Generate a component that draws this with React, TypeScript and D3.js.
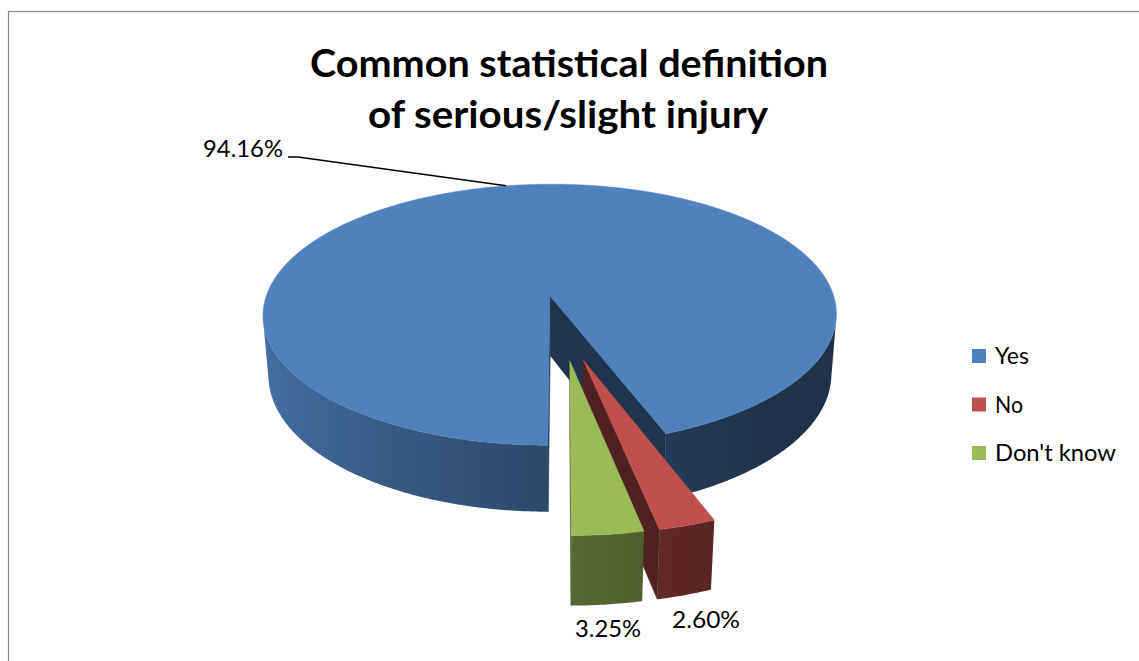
import React from 'react';
import * as d3 from 'd3';

// Survey answers
const categories = ['Yes', 'No', "Don't know"];
const values = [94.16, 2.6, 3.25];
const colors = ['#4F81BD', '#C0504D', '#9BBB59'];
const titleLines = ['Common statistical definition', 'of serious/slight injury'];

// 3-D view of the pie (unit radius disc, top face at Y = 0)
const TILT = (27.8 * Math.PI) / 180;
const SIN = Math.sin(TILT);
const COS = Math.cos(TILT);
const DIST = 5.89;
const FOCAL = 1730;
const CX = 562.4;
const CY = 327;
const THICK = 0.24;
const EXPLODE = 0.24;

type P3 = [number, number, number];

function project(X: number, Y: number, Z: number): P3 {
  const depth = DIST - Z * COS - Y * SIN;
  const u = Y * COS - Z * SIN;
  return [CX + (FOCAL * X) / depth, CY - (FOCAL * u) / depth, depth];
}

const camera = [0, DIST * SIN, DIST * COS];

function shadeWall(t: number): number {
  const light = (280 * Math.PI) / 180;
  return Math.max(0.39, 0.61 + 0.28 * Math.cos(t - light));
}

function scaleColor(hex: string, f: number): string {
  const c = d3.rgb(hex);
  return d3.rgb(c.r * f, c.g * f, c.b * f).formatHex();
}

const poly = (pts: P3[]) =>
  'M' + pts.map((p) => `${p[0].toFixed(2)},${p[1].toFixed(2)}`).join('L') + 'Z';

interface Face {
  d: string;
  fill: string;
  depth: number;
  grad?: { id: string; x1: number; x2: number; stops: { offset: number; color: string }[] };
}

function buildSlice(a0: number, a1: number, color: string, key: string) {
  const mid = (a0 + a1) / 2;
  const ox = EXPLODE * Math.sin(mid);
  const oz = -EXPLODE * Math.cos(mid);
  const rim = (t: number, y: number) => project(ox + Math.sin(t), y, oz - Math.cos(t));
  const faces: Face[] = [];
  const avg = (pts: P3[]) => d3.mean(pts, (p) => p[2]) as number;

  // outer wall: visible strips grouped into continuous runs, each shaded by a gradient
  const n = Math.max(4, Math.ceil((a1 - a0) / (Math.PI / 360)));
  const runs: number[][] = [];
  let cur: number[] | null = null;
  for (let i = 0; i < n; i++) {
    const tm = a0 + ((a1 - a0) * (i + 0.5)) / n;
    const nx = Math.sin(tm);
    const nz = -Math.cos(tm);
    const vis = nx * (camera[0] - (ox + nx)) + nz * (camera[2] - (oz + nz));
    if (vis > 0) {
      if (!cur) {
        cur = [];
        runs.push(cur);
      }
      cur.push(i);
    } else cur = null;
  }
  runs.forEach((run, r) => {
    const ts = [run[0], ...run.map((i) => i + 1)].map((i) => a0 + ((a1 - a0) * i) / n);
    const top = ts.map((t) => rim(t, 0));
    const bottom = ts.map((t) => rim(t, -THICK)).reverse();
    const pts = [...top, ...bottom];
    const xs = top.map((p) => p[0]);
    const x1 = d3.min(xs) as number;
    const x2 = d3.max(xs) as number;
    const stops = run
      .map((i) => {
        const tm = a0 + ((a1 - a0) * (i + 0.5)) / n;
        const x = rim(tm, 0)[0];
        return { offset: x2 > x1 ? (x - x1) / (x2 - x1) : 0, color: scaleColor(color, shadeWall(tm)) };
      })
      .sort((a, b) => a.offset - b.offset);
    const id = `wall-${key}-${r}`;
    faces.push({ d: poly(pts), fill: `url(#${id})`, depth: avg(pts), grad: { id, x1, x2, stops } });
  });

  // radial cut faces
  const radial = (t: number, normalAngle: number) => {
    const nx = Math.sin(normalAngle);
    const nz = -Math.cos(normalAngle);
    const vis = nx * (camera[0] - ox) + nz * (camera[2] - oz);
    if (vis <= 0) return;
    const pts = [project(ox, 0, oz), rim(t, 0), rim(t, -THICK), project(ox, -THICK, oz)];
    faces.push({ d: poly(pts), fill: scaleColor(color, 0.41), depth: avg(pts) });
  };
  radial(a0, a0 - Math.PI / 2);
  radial(a1, a1 + Math.PI / 2);

  faces.sort((a, b) => b.depth - a.depth);

  // top face
  const topPts: P3[] = [project(ox, 0, oz)];
  const m = Math.max(8, Math.ceil((a1 - a0) / (Math.PI / 360)));
  for (let i = 0; i <= m; i++) topPts.push(rim(a0 + ((a1 - a0) * i) / m, 0));
  faces.push({ d: poly(topPts), fill: color, depth: -1 });

  const centerDepth = project(ox, 0, oz)[2];
  const tip = rim(mid, 0);
  return { faces, centerDepth, tip };
}

export default function App() {
  const width = 1139;
  const height = 661;

  const arcs = d3
    .pie<number>()
    .sort(null)
    .startAngle(Math.PI)
    .endAngle(3 * Math.PI)(values);

  const slices = arcs.map((a, i) => ({
    i,
    ...buildSlice(a.startAngle, a.endAngle, colors[i], String(i)),
  }));
  const drawOrder = [...slices].sort((a, b) => b.centerDepth - a.centerDepth);
  const gradients = slices.flatMap((s) => s.faces.filter((f) => f.grad).map((f) => f.grad!));

  const fmt = (v: number) => `${v.toFixed(2)}%`;
  const yesTip = slices[0].tip;

  // label placements: [x, baseline, anchor, width]
  const labelPos: [number, number, string, number][] = [
    [283, 157, 'end', 80],
    [672, 628, 'start', 68],
    [575, 637, 'start', 66],
  ];

  const legendW = [34, 28, 121];

  return (
    <svg
      width={width}
      height={height}
      style={{ position: 'absolute', left: 0, top: 0, background: '#fff' }}
      fontFamily="Lato, 'Open Sans', sans-serif"
    >
      <defs>
        {gradients.map((g) => (
          <linearGradient key={g.id} id={g.id} gradientUnits="userSpaceOnUse" x1={g.x1} y1={0} x2={g.x2} y2={0}>
            {g.stops.map((s, k) => (
              <stop key={k} offset={s.offset} stopColor={s.color} />
            ))}
          </linearGradient>
        ))}
      </defs>

      <rect x={8.5} y={11.5} width={1200} height={800} fill="#fff" stroke="#878787" strokeWidth={1.2} />

      <g fontWeight="bold" fontSize={38} textAnchor="middle" fill="#000">
        <text x={569} y={77} textLength={518} lengthAdjust="spacingAndGlyphs">
          {titleLines[0]}
        </text>
        <text x={568} y={128} textLength={400} lengthAdjust="spacingAndGlyphs">
          {titleLines[1]}
        </text>
      </g>

      {drawOrder.map((s) => (
        <g key={categories[s.i]}>
          {s.faces.map((f, k) => (
            <path
              key={k}
              d={f.d}
              fill={f.fill}
              stroke={f.grad ? 'none' : f.fill}
              strokeWidth={0.5}
              strokeLinejoin="round"
            />
          ))}
        </g>
      ))}

      <path
        d={`M288,157L298,157L${yesTip[0].toFixed(1)},${yesTip[1].toFixed(1)}`}
        fill="none"
        stroke="#000"
        strokeWidth={1.4}
      />

      <g fontSize={24} fill="#000">
        {values.map((v, i) => (
          <text
            key={categories[i]}
            x={labelPos[i][0]}
            y={labelPos[i][1]}
            textAnchor={labelPos[i][2]}
            textLength={labelPos[i][3]}
            lengthAdjust="spacingAndGlyphs"
          >
            {fmt(v)}
          </text>
        ))}
      </g>

      <g fontSize={24} fill="#000">
        {categories.map((c, i) => (
          <g key={c} transform={`translate(972,${349 + i * 48.5})`}>
            <rect width={14} height={14} fill={colors[i]} />
            <text x={23} y={15} textLength={legendW[i]} lengthAdjust="spacingAndGlyphs">
              {c}
            </text>
          </g>
        ))}
      </g>
    </svg>
  );
}
